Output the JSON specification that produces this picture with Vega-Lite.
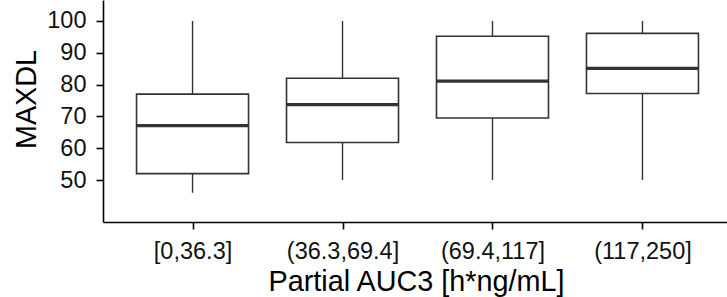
{
  "$schema": "https://vega.github.io/schema/vega-lite/v6.json",
  "width": 629,
  "height": 222,
  "autosize": {"type": "none"},
  "padding": {"left": 103, "top": 0, "right": 0, "bottom": 75},
  "background": "white",
  "config": {
    "view": {"stroke": null},
    "font": "Liberation Sans",
    "axis": {
      "grid": false,
      "domainColor": "black",
      "domainWidth": 1.6,
      "tickColor": "black",
      "tickWidth": 1.6,
      "tickSize": 7,
      "labelColor": "#111111",
      "titleColor": "black",
      "labelFont": "Liberation Sans",
      "titleFont": "Liberation Sans",
      "labelFontSize": 23.5,
      "titleFontSize": 28.8,
      "titleFontWeight": "normal"
    }
  },
  "data": {
    "values": [
      {"auc": "[0,36.3]", "lower": 46, "q1": 52, "median": 67.1, "q3": 77, "upper": 100},
      {"auc": "(36.3,69.4]", "lower": 50, "q1": 61.8, "median": 73.7, "q3": 82, "upper": 100},
      {"auc": "(69.4,117]", "lower": 50, "q1": 69.5, "median": 81.1, "q3": 95.2, "upper": 100},
      {"auc": "(117,250]", "lower": 50, "q1": 77.2, "median": 85.1, "q3": 96.1, "upper": 100}
    ]
  },
  "encoding": {
    "x": {
      "field": "auc",
      "type": "nominal",
      "sort": null,
      "scale": {"type": "point", "padding": 0.597},
      "axis": {
        "title": "Partial AUC3 [h*ng/mL]",
        "labelAngle": 0,
        "labelPadding": 10,
        "titleBaseline": "alphabetic",
        "titleY": 68,
        "titleX": 313
      }
    }
  },
  "layer": [
    {
      "mark": {"type": "rule", "color": "#333333", "strokeWidth": 1.4},
      "encoding": {
        "y": {
          "field": "lower",
          "type": "quantitative",
          "scale": {"domain": [36.8, 106.6], "nice": false, "zero": false},
          "axis": {
            "title": "MAXDL",
            "values": [50, 60, 70, 80, 90, 100],
            "labelPadding": 10,
            "titleBaseline": "alphabetic",
            "titleX": -68,
            "titleY": 99
          }
        },
        "y2": {"field": "upper"}
      }
    },
    {
      "mark": {"type": "bar", "fill": "white", "stroke": "#333333", "strokeWidth": 1.6, "width": 112},
      "encoding": {
        "y": {"field": "q1", "type": "quantitative"},
        "y2": {"field": "q3"}
      }
    },
    {
      "mark": {"type": "tick", "color": "#333333", "opacity": 1, "size": 112, "thickness": 3.2},
      "encoding": {
        "y": {"field": "median", "type": "quantitative"}
      }
    }
  ]
}
